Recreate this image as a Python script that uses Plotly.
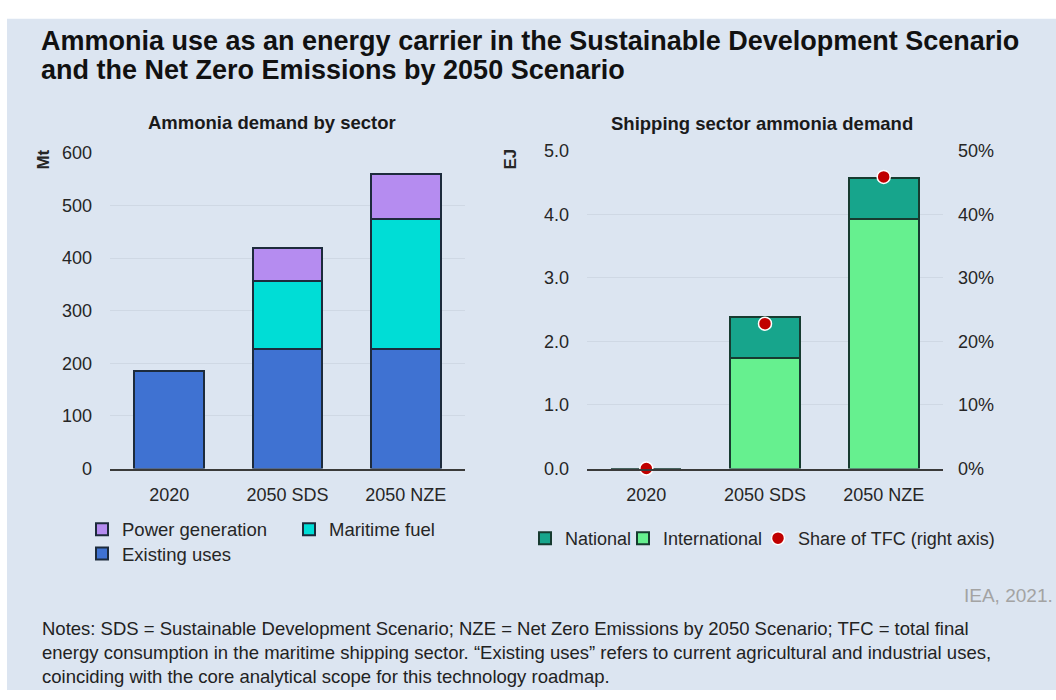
import plotly.graph_objects as go

# ---- data -------------------------------------------------------------
categories = ["2020", "2050 SDS", "2050 NZE"]

# Ammonia demand by sector (Mt)
existing_uses = [185, 228, 228]
maritime_fuel = [0, 128, 246]
power_generation = [0, 63, 85]

# Shipping sector ammonia demand (EJ)
international = [0.0, 1.74, 3.93]
national = [0.0, 0.65, 0.65]
# Share of total final consumption in shipping (right axis)
share_of_tfc = [0.0, 0.228, 0.459]

W, H = 1056, 700
FONT = "Liberation Sans, Arial, sans-serif"
TXT = "#262626"
OUTLINE = "#1d2b3c"


def px(x):
    return x / W


def py(y):
    return 1 - y / H


fig = go.Figure()

# ---- left panel: stacked demand by sector ----------------------------
fig.add_trace(go.Bar(x=categories, y=existing_uses, name="Existing uses",
                     marker=dict(color="#3f72d2", line=dict(color=OUTLINE, width=2)),
                     xaxis="x", yaxis="y", legend="legend3"))
fig.add_trace(go.Bar(x=categories, y=maritime_fuel, name="Maritime fuel",
                     marker=dict(color="#00ddd6", line=dict(color=OUTLINE, width=2)),
                     xaxis="x", yaxis="y", legend="legend2"))
fig.add_trace(go.Bar(x=categories, y=power_generation, name="Power generation",
                     marker=dict(color="#b58cf0", line=dict(color=OUTLINE, width=2)),
                     xaxis="x", yaxis="y", legend="legend"))

# ---- right panel: shipping demand + share -----------------------------
fig.add_trace(go.Bar(x=categories, y=international, name="International",
                     marker=dict(color="#66f08f", line=dict(color="#173b30", width=2)),
                     xaxis="x2", yaxis="y2", legend="legend5"))
fig.add_trace(go.Bar(x=categories, y=national, name="National",
                     marker=dict(color="#17a58c", line=dict(color="#173b30", width=2)),
                     xaxis="x2", yaxis="y2", legend="legend4"))
fig.add_trace(go.Scatter(x=categories, y=share_of_tfc, name="Share of TFC (right axis)",
                         mode="markers",
                         marker=dict(color="#c00000", size=13,
                                     line=dict(color="white", width=1.5)),
                         xaxis="x2", yaxis="y3", legend="legend6", cliponaxis=False))

axis_common = dict(showline=False, ticks="", showgrid=False, zeroline=False,
                   tickfont=dict(family=FONT, size=18, color=TXT), fixedrange=True)

fig.update_layout(
    width=W, height=H,
    margin=dict(l=0, r=0, t=0, b=0),
    paper_bgcolor="white",
    plot_bgcolor="rgba(0,0,0,0)",
    barmode="stack",
    bargap=0.41,
    showlegend=True,
    font=dict(family=FONT, color=TXT),
    xaxis=dict(axis_common, domain=[px(110), px(465)], anchor="y",
               showline=True, linecolor="#3a3a3a", linewidth=2,
               ticklabelstandoff=9),
    yaxis=dict(axis_common, domain=[py(472), py(147)], anchor="x",
               range=[0, 600], dtick=100, showgrid=True,
               gridcolor="#cfd8e4", gridwidth=1, ticklabelstandoff=17),
    xaxis2=dict(axis_common, domain=[px(587), px(943)], anchor="y2",
                showline=True, linecolor="#3a3a3a", linewidth=2,
                ticklabelstandoff=9),
    yaxis2=dict(axis_common, domain=[py(472), py(145)], anchor="x2",
                range=[0, 5], dtick=1, tickformat=".1f", showgrid=True,
                gridcolor="#cfd8e4", gridwidth=1, ticklabelstandoff=17),
    yaxis3=dict(axis_common, overlaying="y2", side="right", anchor="x2",
                range=[0, 0.5], dtick=0.1, tickformat=".0%",
                ticklabelstandoff=14),
)

# one single-entry legend per item so each sits exactly where it belongs
legend_style = dict(orientation="h", xanchor="left", yanchor="middle",
                    bgcolor="rgba(0,0,0,0)", borderwidth=0,
                    font=dict(family=FONT, size=18.5, color=TXT),
                    itemclick=False, itemdoubleclick=False)
legend_pos = {
    "legend": (82, 535, 18.5),
    "legend2": (289, 535, 18.5),
    "legend3": (82, 560, 18.5),
    "legend4": (525, 544, 18),
    "legend5": (623, 544, 18),
    "legend6": (758, 544, 18),
}
fig.update_layout({name: dict(legend_style, x=px(x), y=py(y),
                              font=dict(family=FONT, size=fs, color=TXT))
                   for name, (x, y, fs) in legend_pos.items()})

# panel background
fig.add_shape(type="rect", xref="paper", yref="paper", layer="below",
              x0=px(7), x1=1, y0=0, y1=py(9),
              fillcolor="#dce5f1", line=dict(width=0))

title_lines = ["Ammonia use as an energy carrier in the Sustainable Development Scenario",
               "and the Net Zero Emissions by 2050 Scenario"]
notes_text = (
    "Notes: SDS = Sustainable Development Scenario; NZE = Net Zero Emissions by 2050 Scenario; TFC = total final"
    "<br>energy consumption in the maritime shipping sector. \u201cExisting uses\u201d refers to current agricultural and industrial uses,"
    "<br>coinciding with the core analytical scope for this technology roadmap."
)

annotations = []
for i, line in enumerate(title_lines):
    annotations.append(dict(x=px(39), y=py(32 + 30 * i), xanchor="left", yanchor="middle",
                            text="<b>" + line + "</b>",
                            font=dict(family=FONT, size=27, color="#111111")))
annotations += [
    dict(x=px(40), y=py(661), xanchor="left", yanchor="middle", align="left",
         text=notes_text, font=dict(family=FONT, size=18.5, color="#222222")),
    dict(x=px(272), y=py(116), xanchor="center", yanchor="middle",
         text="<b>Ammonia demand by sector</b>",
         font=dict(family=FONT, size=18.5, color="#1a1a1a")),
    dict(x=px(762), y=py(117), xanchor="center", yanchor="middle",
         text="<b>Shipping sector ammonia demand</b>",
         font=dict(family=FONT, size=18.5, color="#1a1a1a")),
    dict(x=px(44), y=py(154), xanchor="center", yanchor="middle", textangle=-90,
         text="<b>Mt</b>", font=dict(family=FONT, size=17, color=TXT)),
    dict(x=px(511), y=py(154), xanchor="center", yanchor="middle", textangle=-90,
         text="<b>EJ</b>", font=dict(family=FONT, size=17, color=TXT)),
    dict(x=px(1055), y=py(603), xanchor="right", yanchor="middle",
         text="IEA, 2021.", font=dict(family=FONT, size=19, color="#a3a3a3")),
]
for a in annotations:
    a.update(xref="paper", yref="paper", showarrow=False)
    fig.add_annotation(a)

fig.write_html("out.html")
